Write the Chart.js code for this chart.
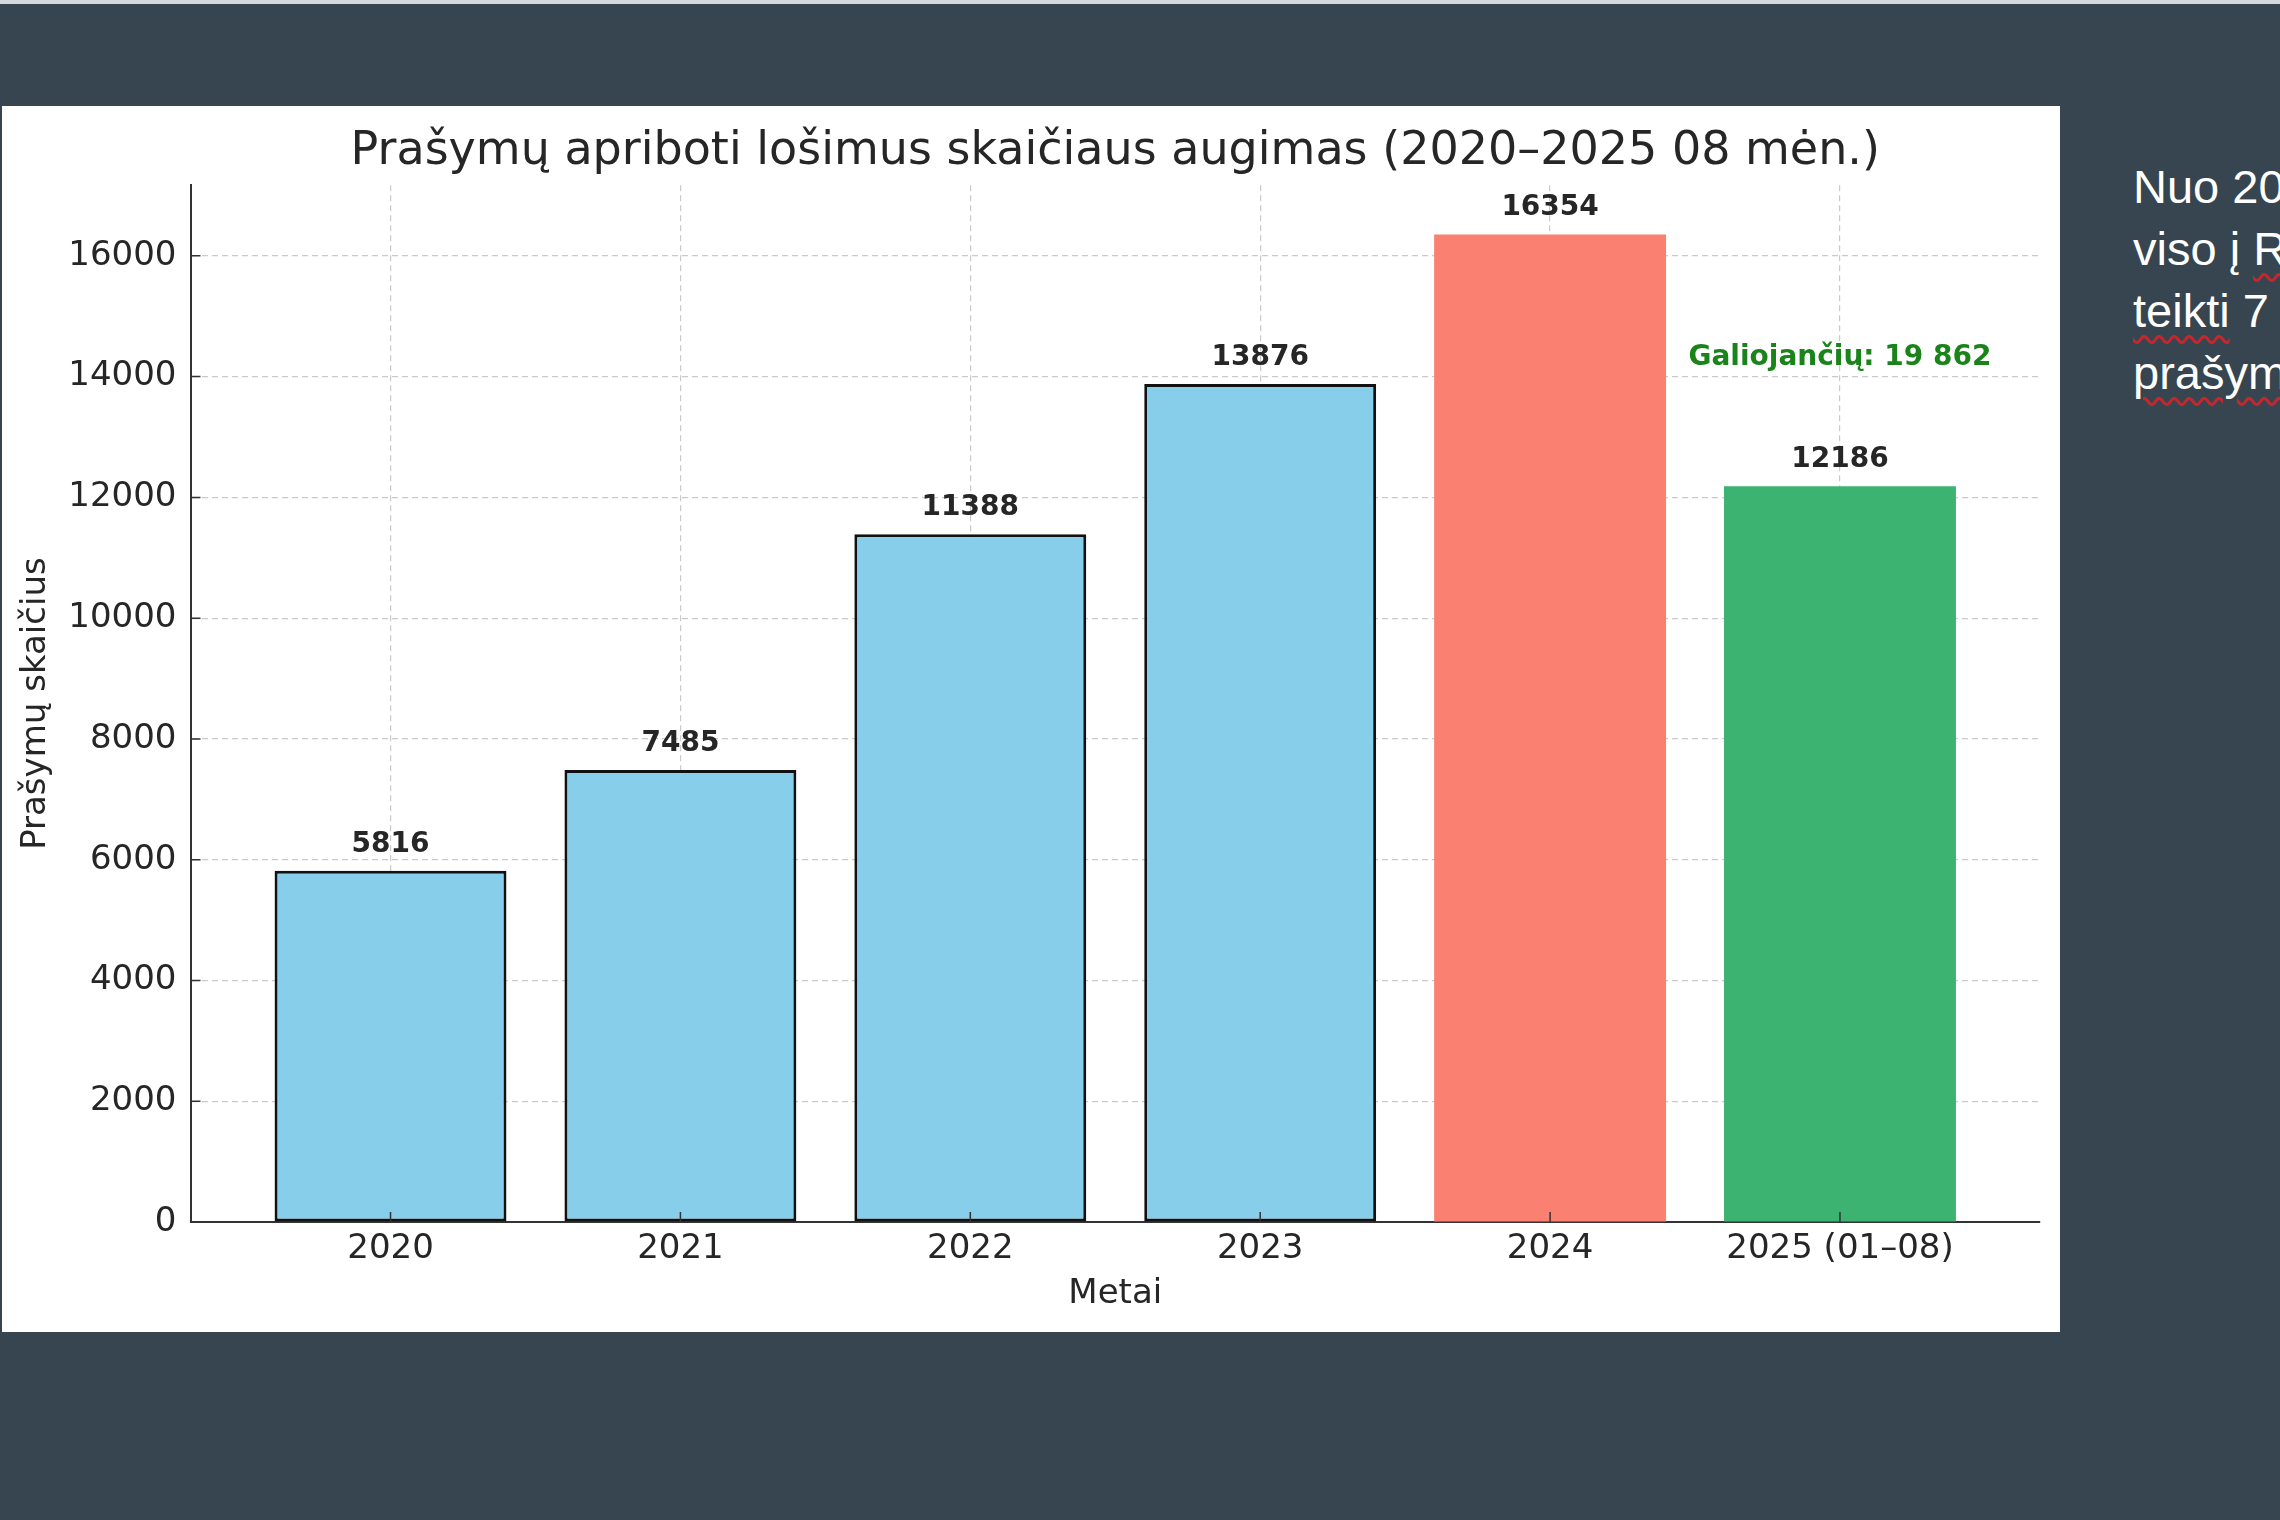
<!DOCTYPE html>
<html lang="lt">
<head>
<meta charset="utf-8">
<title>Prašymų apriboti lošimus skaičiaus augimas</title>
<script src="https://cdn.jsdelivr.net/npm/chart.js@4.4.0/dist/chart.umd.min.js"></script>
<style>
  html, body { margin: 0; padding: 0; }
  body {
    width: 2280px; height: 1520px; position: relative; overflow: hidden;
    background: #36454f; font-family: "DejaVu Sans", sans-serif;
  }
  .virsus { position: absolute; left: 0; top: 0; width: 2280px; height: 4px; background: #d5d9dc; }
  .lapas { position: absolute; left: 2px; top: 106px; width: 2058px; height: 1226px; background: #fff; }
  .tekstas {
    position: absolute; left: 2133px; top: 156px; white-space: nowrap;
    font-family: "Liberation Sans", Arial, sans-serif; font-size: 47px; line-height: 62px; color: #fff;
  }
  .klaida { text-decoration: underline wavy #c8262c; text-decoration-thickness: 3px; text-underline-offset: 8px; }
</style>
</head>
<body>
<div class="virsus"></div>
<div class="lapas"><canvas id="grafikas" width="2058" height="1226"></canvas></div>
<div class="tekstas">
  Nuo 2020<br>
  viso į <span class="klaida">R</span><br>
  <span class="klaida">teikti</span> 7<br>
  <span class="klaida">prašymų</span>
</div>
<script>
const metai = ["2020", "2021", "2022", "2023", "2024", "2025 (01–08)"];
const prasymai = [5816, 7485, 11388, 13876, 16354, 12186];
const xTicks = [0, 1, 2, 3, 4, 5];
const yTicks = [0, 2000, 4000, 6000, 8000, 10000, 12000, 14000, 16000];
const yMax = 17170;
const xMin = -0.69;
const xMax = 5.69;
const galiojanciuTekstas = "Galiojančių: 19 862";
const galiojanciuY = 14200;

Chart.defaults.font.family = '"DejaVu Sans", sans-serif';
Chart.defaults.color = "#262626";

// reikšmės virš stulpelių, anotacija ir vidinės padalos
const etiketes = {
  id: "etiketes",
  afterDraw(chart) {
    const { ctx, chartArea, scales } = chart;
    const meta = chart.getDatasetMeta(0);
    ctx.save();
    ctx.strokeStyle = "#333";
    ctx.lineWidth = 1.5;
    ctx.beginPath();
    scales.y.ticks.forEach((t) => {
      const py = scales.y.getPixelForValue(t.value);
      ctx.moveTo(chartArea.left, py);
      ctx.lineTo(chartArea.left + 10, py);
    });
    scales.x.ticks.forEach((t) => {
      const px = scales.x.getPixelForValue(t.value);
      ctx.moveTo(px, chartArea.bottom);
      ctx.lineTo(px, chartArea.bottom - 10);
    });
    ctx.stroke();

    ctx.font = 'bold 28px "DejaVu Sans"';
    ctx.textAlign = "center";
    ctx.textBaseline = "alphabetic";
    ctx.fillStyle = "#262626";
    meta.data.forEach((bar, i) => {
      ctx.fillText(String(prasymai[i]), bar.x, bar.y - 19);
    });
    ctx.fillStyle = "#1a841a";
    ctx.fillText(
      galiojanciuTekstas,
      scales.x.getPixelForValue(xTicks[5]),
      scales.y.getPixelForValue(galiojanciuY)
    );
    ctx.restore();
  },
};

new Chart(document.getElementById("grafikas"), {
  type: "bar",
  data: {
    datasets: [
      {
        data: prasymai.map((v, i) => ({ x: xTicks[i], y: v })),
        backgroundColor: ["#87CEEB", "#87CEEB", "#87CEEB", "#87CEEB", "#FA8072", "#3CB371"],
        borderColor: "#111",
        borderWidth: [3, 3, 3, 3, 0, 0],
        borderSkipped: false,
        categoryPercentage: 1,
        barPercentage: 0.8,
      },
    ],
  },
  options: {
    responsive: false,
    devicePixelRatio: 1,
    animation: false,
    layout: { padding: { left: 0, right: 20, top: 0, bottom: 0 } },
    plugins: {
      legend: { display: false },
      tooltip: { enabled: false },
      title: {
        display: true,
        fullSize: false,
        text: "Prašymų apriboti lošimus skaičiaus augimas (2020–2025 08 mėn.)",
        font: { size: 46, weight: "normal" },
        color: "#262626",
        padding: { top: 18, bottom: 6 },
      },
    },
    scales: {
      x: {
        type: "linear",
        min: xMin,
        max: xMax,
        offset: false,
        z: 1,
        afterBuildTicks: (s) => { s.ticks = xTicks.map((v) => ({ value: v })); },
        afterFit: (s) => { s.height = 110; },
        ticks: {
          callback: (v) => metai[v],
          autoSkip: false,
          maxRotation: 0,
          font: { size: 34 },
          color: "#262626",
          padding: 7,
        },
        grid: { offset: false, color: "rgba(150,150,150,0.5)", lineWidth: 1.2, drawTicks: false },
        border: { color: "#333", width: 2, dash: [6, 4] },
        title: {
          display: true,
          text: "Metai",
          font: { size: 34 },
          color: "#262626",
          padding: { top: 0, bottom: 17 },
        },
      },
      y: {
        min: 0,
        max: yMax,
        z: 1,
        afterBuildTicks: (s) => { s.ticks = yTicks.map((v) => ({ value: v })); },
        afterFit: (s) => { s.width = 188.5; },
        ticks: { callback: (v) => String(v), font: { size: 34 }, color: "#262626", padding: 14 },
        grid: { color: "rgba(150,150,150,0.5)", lineWidth: 1.2, drawTicks: false },
        border: { color: "#333", width: 2, dash: [6, 4] },
        title: {
          display: true,
          text: "Prašymų skaičius",
          font: { size: 34 },
          color: "#262626",
          padding: { top: 14, bottom: 0 },
        },
      },
    },
  },
  plugins: [etiketes],
});
</script>
</body>
</html>
